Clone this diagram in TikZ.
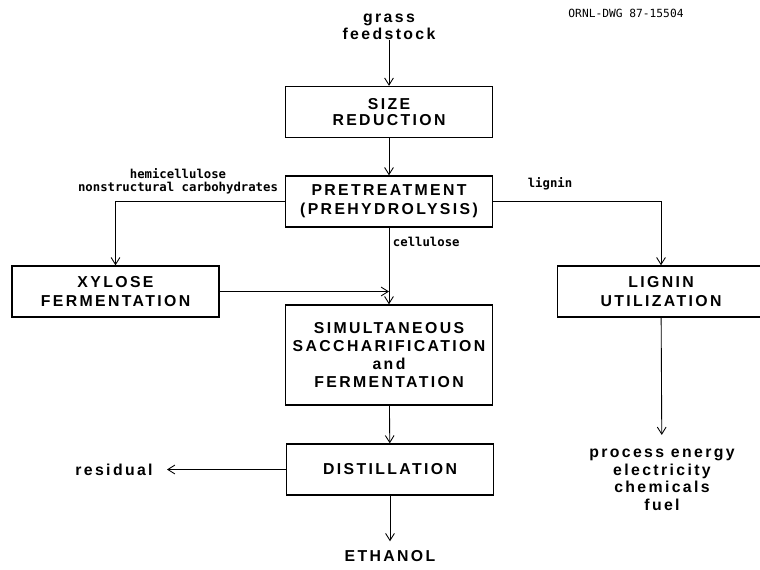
\documentclass[tikz,border=0pt]{standalone}
\usepackage{fontspec}
\newfontfamily\flowfont{Liberation Sans}[LetterSpace=15]
\newfontfamily\tagfont{DejaVu Sans Mono}
\usetikzlibrary{arrows.meta, positioning}

\begin{document}
\begin{tikzpicture}[x=0.02cm, y=-0.02cm, >={Straight Barb[length=4pt,width=5pt]},
    stage/.style={draw, line width=0.8pt, minimum width=4.14cm, minimum height=1.02cm,
        align=center, inner sep=0pt, font=\flowfont\bfseries\fontsize{9}{11}\selectfont},
    flow/.style={font=\flowfont\bfseries\fontsize{9}{10}\selectfont, align=center, inner sep=0pt},
    tag/.style={font=\tagfont\bfseries\fontsize{7}{7}\selectfont, align=center, inner sep=0pt},
    pipe/.style={line width=0.5pt}]
    \useasboundingbox (0,0) rectangle (760,569);

    % 1. Nguyen lieu va so do
    \node[font=\tagfont\fontsize{6.4}{7}\selectfont] (dwg) at (626,13) {ORNL-DWG 87-15504};
    \node[flow] (feed) at (389,27) {grass\\feedstock};

    % 2. Cac khoi chinh
    \node[stage, font=\flowfont\bfseries\fontsize{9}{9}\selectfont] (size) at (389,112) {SIZE\\REDUCTION};
    \node[stage] (pre) at (389,201.5) {PRETREATMENT\\(PREHYDROLYSIS)};
    \node[stage] (xyl) at (115.5,291.5) {XYLOSE\\FERMENTATION};
    \node[stage] (lig) at (661,291.5) {LIGNIN\\UTILIZATION};
    \node[stage, minimum height=2cm, font=\flowfont\bfseries\fontsize{9}{10.2}\selectfont] (ssf) at (389,355)
        {SIMULTANEOUS\\SACCHARIFICATION\\and\\FERMENTATION};
    \node[stage] (dist) at (390,469.5) {DISTILLATION};

    % 3. San pham
    \coordinate (resend) at (167,469.5);
    \node[flow, left=0.28cm of resend] (res) {residual};
    \node[flow, inner ysep=5pt] (eth) at (390,556) {ETHANOL};
    \node[flow] (uses) at (662,480) {process energy\\electricity\\chemicals\\fuel};

    % 4. Cac mui ten
    \draw[pipe,->] (feed) -- (size);
    \draw[pipe,->] (size) -- (pre);
    \draw[pipe,->] (pre.west) -| (xyl.north);
    \draw[pipe,->] (pre.east) -| (lig.north);
    \draw[pipe,->] (pre) -- node[tag, pos=0.18, anchor=west, xshift=2pt] (cell) {cellulose} (ssf);
    \draw[pipe,->] (xyl.east) -- (xyl.east -| ssf.north);
    \draw[pipe,->] (ssf) -- (dist);
    \draw[pipe,->] (dist.west) -- (resend);
    \draw[pipe,->] (dist) -- (eth);
    \draw[pipe,->, shorten >=8pt] (lig) -- (uses);

    % 5. Nhan tren cac nhanh
    \node[tag, anchor=south] (hemi) at (178,194) {hemicellulose\\nonstructural carbohydrates};
    \node[tag] (lig-tag) at (550,184) {lignin};
\end{tikzpicture}
\end{document}
